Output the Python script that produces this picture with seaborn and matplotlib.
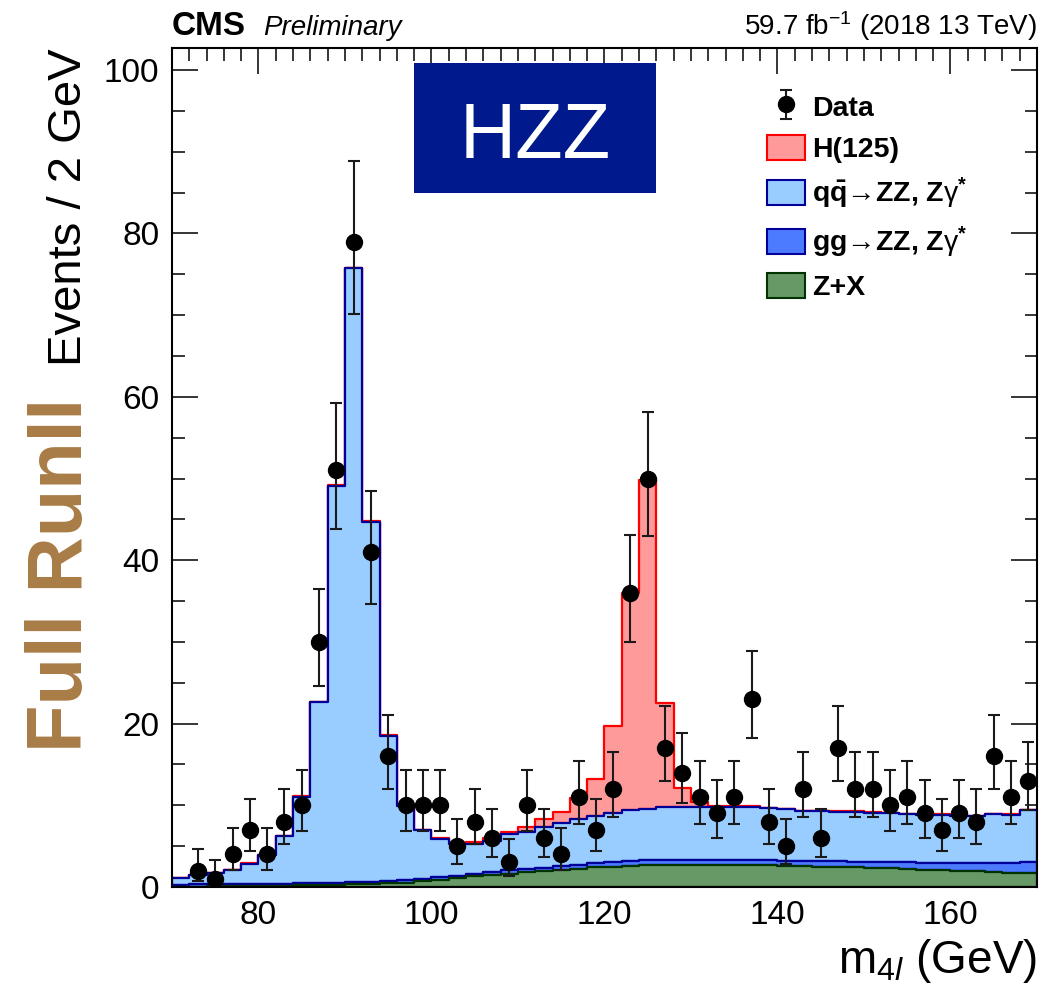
import numpy as np
import pandas as pd
import matplotlib
matplotlib.use("Agg")
import matplotlib.pyplot as plt
from matplotlib.ticker import MultipleLocator
from matplotlib.patches import Patch, Rectangle
from matplotlib.colors import to_rgba
from math import lgamma
import seaborn as sns

# ---------------------------------------------------------------- binning
mass_range = (70, 170)
bin_width = 2
bin_centers = [71, 73, 75, 77, 79, 81, 83, 85, 87, 89,
               91, 93, 95, 97, 99, 101, 103, 105, 107, 109,
               111, 113, 115, 117, 119, 121, 123, 125, 127, 129,
               131, 133, 135, 137, 139, 141, 143, 145, 147, 149,
               151, 153, 155, 157, 159, 161, 163, 165, 167, 169]

# ---------------------------------------------------------------- expected yields per bin
h125 = [0.02, 0.02, 0.02, 0.02, 0.02, 0.02, 0.03, 0.03, 0.05, 0.05,
        0.05, 0.05, 0.10, 0.05, 0.05, 0.10, 0.10, 0.20, 0.40, 0.30,
        0.70, 0.90, 1.30, 2.50, 4.50, 10.6, 26.6, 40.3, 12.8, 2.40,
        0.60, 0.15, 0.10, 0.05, 0.05, 0.05, 0.05, 0.05, 0.05, 0.05,
        0.05, 0.05, 0.05, 0.05, 0.05, 0.05, 0.05, 0.05, 0.05, 0.05]

qq_zz = [0.80, 1.20, 1.40, 1.75, 2.50, 3.50, 5.80, 10.6, 22.1, 48.6,
         75.2, 44.1, 17.8, 9.10, 6.00, 4.70, 3.90, 3.70, 3.80, 4.40,
         4.50, 5.00, 5.30, 5.60, 5.80, 6.00, 6.20, 6.20, 6.40, 6.40,
         6.40, 6.40, 6.50, 6.50, 6.40, 6.30, 6.10, 6.10, 6.10, 6.10,
         6.00, 6.00, 5.90, 5.90, 5.90, 5.80, 5.80, 6.00, 5.90, 6.40]

gg_zz = [0.25, 0.25, 0.25, 0.25, 0.25, 0.25, 0.25, 0.25, 0.25, 0.25,
         0.25, 0.25, 0.25, 0.25, 0.25, 0.30, 0.30, 0.32, 0.35, 0.38,
         0.40, 0.42, 0.45, 0.50, 0.55, 0.60, 0.62, 0.65, 0.65, 0.65,
         0.65, 0.65, 0.63, 0.62, 0.62, 0.62, 0.63, 0.65, 0.68, 0.70,
         0.72, 0.75, 0.80, 0.85, 0.90, 0.95, 1.00, 1.10, 1.20, 1.30]

z_plus_x = [0.05, 0.06, 0.08, 0.10, 0.12, 0.14, 0.17, 0.20, 0.24, 0.28,
            0.32, 0.37, 0.45, 0.55, 0.70, 0.90, 1.10, 1.30, 1.50, 1.65,
            1.80, 1.95, 2.10, 2.25, 2.40, 2.50, 2.60, 2.65, 2.70, 2.70,
            2.70, 2.70, 2.70, 2.70, 2.65, 2.60, 2.55, 2.50, 2.45, 2.40,
            2.35, 2.30, 2.20, 2.10, 2.05, 1.95, 1.90, 1.80, 1.75, 1.70]

# ---------------------------------------------------------------- observed events per bin
data_counts = [0, 2, 1, 4, 7, 4, 8, 10, 30, 51,
               79, 41, 16, 10, 10, 10, 5, 8, 6, 3,
               10, 6, 4, 11, 7, 12, 36, 50, 17, 14,
               11, 9, 11, 23, 8, 5, 12, 6, 17, 12,
               12, 10, 11, 9, 7, 9, 8, 16, 11, 13]

# ---------------------------------------------------------------- process styling
process_labels = ["H(125)",
                  r"$\mathbf{q\bar{q}}$" + "\u2192ZZ, Z" + r"$\mathrm{\gamma}^{\mathbf{*}}$",
                  "gg\u2192ZZ, Z" + r"$\mathrm{\gamma}^{\mathbf{*}}$",
                  "Z+X"]
fill_colors = ["#FF9A9A", "#99CCFF", "#4D7BFF", "#669966"]
edge_colors = ["#FF0000", "#000099", "#000099", "#003300"]


def poisson_cdf(k, mu):
    i = np.arange(k + 1)
    logfact = np.array([lgamma(j + 1) for j in i])
    return float(np.exp(i * np.log(mu) - mu - logfact).sum())


def garwood_interval(n, tail=0.158655):
    """Central 68.3% Poisson interval on the mean for an observed count n."""
    if n == 0:
        lo = 0.0
    else:
        a, b = 1e-9, float(n)
        for _ in range(80):
            m = 0.5 * (a + b)
            if 1.0 - poisson_cdf(n - 1, m) < tail:
                a = m
            else:
                b = m
        lo = 0.5 * (a + b)
    a, b = float(n) + 1e-9, n + 10.0 * np.sqrt(n + 1) + 10.0
    for _ in range(80):
        m = 0.5 * (a + b)
        if poisson_cdf(n, m) > tail:
            a = m
        else:
            b = m
    hi = 0.5 * (a + b)
    return lo, hi


# ---------------------------------------------------------------- style
sns.set_style("ticks")
plt.rcParams["font.family"] = ["Liberation Sans", "DejaVu Sans"]
plt.rcParams["mathtext.fontset"] = "custom"
plt.rcParams["mathtext.rm"] = "Liberation Sans"
plt.rcParams["mathtext.it"] = "Liberation Sans:italic"
plt.rcParams["mathtext.bf"] = "Liberation Sans:bold"
for key in ("text.color", "axes.labelcolor", "xtick.color", "ytick.color",
            "axes.edgecolor"):
    plt.rcParams[key] = "black"

fig = plt.figure(figsize=(10.56, 9.92), dpi=100)
ax = fig.add_axes([172 / 1056, 1 - 887 / 992, 865 / 1056, 839 / 992])

# ---------------------------------------------------------------- stacked expectation
yield_table = pd.DataFrame({
    "m4l": np.tile(bin_centers, 4),
    "events": np.concatenate([h125, qq_zz, gg_zz, z_plus_x]),
    "process": np.repeat(process_labels, len(bin_centers)),
})

sns.histplot(data=yield_table, x="m4l", weights="events", hue="process",
             hue_order=process_labels, multiple="stack",
             binwidth=bin_width, binrange=mass_range,
             element="step", fill=True, alpha=1.0, linewidth=1.6,
             palette=dict(zip(process_labels, fill_colors)),
             legend=False, ax=ax)

# outline colours and drawing order: lower layers drawn over upper ones
fill_rgb = np.array([to_rgba(c)[:3] for c in fill_colors])
for coll in ax.collections:
    fc = np.array(coll.get_facecolor()[0][:3])
    idx = int(np.argmin(((fill_rgb - fc) ** 2).sum(axis=1)))
    coll.set_edgecolor(edge_colors[idx])
    coll.set_linewidth(1.6)
    coll.set_zorder(1.1 + 0.1 * idx)

# ---------------------------------------------------------------- data points
counts = np.array(data_counts)
centers = np.array(bin_centers)
observed = counts > 0
intervals = np.array([garwood_interval(int(n)) for n in counts[observed]])
err_lo = counts[observed] - intervals[:, 0]
err_hi = intervals[:, 1] - counts[observed]
data_handle = ax.errorbar(centers[observed], counts[observed],
                          yerr=[err_lo, err_hi], fmt="o", color="black",
                          ecolor="#1a1a1a", ms=11.5, elinewidth=1.5,
                          capsize=4.5, capthick=1.5, zorder=3)

# ---------------------------------------------------------------- axes
ax.set_xlim(*mass_range)
ax.set_ylim(0, 102.7)
ax.xaxis.set_major_locator(MultipleLocator(20))
ax.xaxis.set_minor_locator(MultipleLocator(2))
ax.yaxis.set_major_locator(MultipleLocator(20))
ax.yaxis.set_minor_locator(MultipleLocator(5))
ax.tick_params(which="both", direction="in", top=True, right=True,
               width=1.1, color="black", labelcolor="black")
ax.tick_params(which="major", length=19, labelsize=24, pad=9)
ax.tick_params(which="minor", length=9)
for sp in ax.spines.values():
    sp.set_linewidth(1.5)
    sp.set_color("black")
    sp.set_visible(True)

ax.set_xlabel(r"m$_{4\mathit{l}}$ (GeV)", fontsize=33, loc="right")
ax.xaxis.set_label_coords(1.0, -0.06)
ax.set_ylabel("Events / 2 GeV", fontsize=34, loc="top")
ax.yaxis.set_label_coords(-0.094, 1.0)

ax.text(-0.104, 0.583, "Full RunII", rotation=90, rotation_mode="anchor",
        ha="right", va="baseline", fontsize=56, fontweight="bold",
        color="#A97C46", transform=ax.transAxes)

# ---------------------------------------------------------------- header
ax.text(0.0, 1.0155, "CMS", fontsize=24, fontweight="bold", ha="left",
        va="baseline", transform=ax.transAxes)
ax.text(0.105, 1.0155, "Preliminary", fontsize=20, style="italic", ha="left",
        va="baseline", transform=ax.transAxes)
ax.text(1.0, 1.0155, r"59.7 fb$^{\mathregular{-1}}$ (2018 13 TeV)", fontsize=20,
        ha="right", va="baseline", transform=ax.transAxes)

# ---------------------------------------------------------------- channel badge
ax.add_patch(Rectangle((0.2798, 0.827), 0.2798, 0.155, transform=ax.transAxes,
                       facecolor="#00198C", edgecolor="none", zorder=4))
ax.text(0.4197, 0.869, "HZZ", color="white", fontsize=56, ha="center",
        va="baseline", transform=ax.transAxes, zorder=5)

# ---------------------------------------------------------------- legend
handles = [data_handle] + [
    Patch(facecolor=fc, edgecolor=ec, linewidth=1.5)
    for fc, ec in zip(fill_colors, edge_colors)
]
labels = ["Data"] + process_labels
leg = ax.legend(handles, labels, loc="upper left", bbox_to_anchor=(0.688, 0.946),
                frameon=False, borderpad=0, borderaxespad=0,
                handlelength=1.34, handleheight=0.98, handletextpad=0.25,
                labelspacing=0.46,
                prop={"weight": "bold", "size": 20.5})
leg.set_zorder(6)

fig.savefig("out.png", dpi=100)
